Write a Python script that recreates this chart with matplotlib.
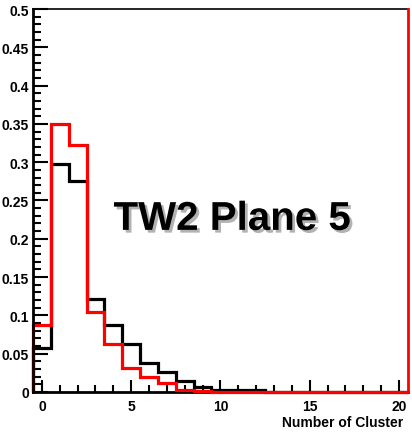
import numpy as np
import matplotlib
matplotlib.use("Agg")
import matplotlib.pyplot as plt
import matplotlib.patheffects as pe
from matplotlib.ticker import MultipleLocator

plt.rcParams['font.family'] = ['Liberation Sans', 'DejaVu Sans']
plt.rcParams['font.weight'] = 'bold'

# bin edges: 21 bins centred on 0..20
edges = np.arange(-0.5, 21.0, 1.0)
black_vals = [0.058, 0.298, 0.275, 0.121, 0.087, 0.063, 0.038, 0.026, 0.014, 0.007,
              0.003, 0.002, 0.002, 0, 0, 0, 0, 0, 0, 0, 0]
red_vals = [0.087, 0.350, 0.322, 0.104, 0.063, 0.031, 0.019, 0.012, 0.003, 0.001,
            0, 0, 0, 0, 0, 0, 0, 0, 0, 0, 0]
y_ticks = [0, 0.05, 0.1, 0.15, 0.2, 0.25, 0.3, 0.35, 0.4, 0.45, 0.5]
y_labels = ['0', '0.05', '0.1', '0.15', '0.2', '0.25', '0.3', '0.35', '0.4', '0.45', '0.5']
x_ticks = [0, 5, 10, 15, 20]

fig = plt.figure(figsize=(4.12, 4.35), dpi=100)
ax = fig.add_axes([0.080, 0.0966, 0.910, 0.8804])

ax.stairs(black_vals, edges, color='black', linewidth=2.3, zorder=3, clip_on=False)
ax.stairs(red_vals, edges, color='red', linewidth=2.3, zorder=3.5, clip_on=False)

ax.set_xlim(-0.5, 20.5)
ax.set_ylim(0, 0.5)

ax.set_yticks(y_ticks)
ax.set_yticklabels(y_labels)
ax.set_xticks(x_ticks)
ax.xaxis.set_minor_locator(MultipleLocator(1))
ax.yaxis.set_minor_locator(MultipleLocator(0.01))
ax.tick_params(axis='both', which='both', direction='in', width=1.5, labelsize=10)
ax.tick_params(axis='y', which='major', length=11, pad=3)
ax.tick_params(axis='y', which='minor', length=6)
ax.tick_params(axis='x', which='major', length=9, pad=5)
ax.tick_params(axis='x', which='minor', length=5)
for lab in ax.get_xticklabels() + ax.get_yticklabels():
    lab.set_fontweight('bold')

ax.spines['left'].set_linewidth(2)
ax.spines['left'].set_zorder(4)
ax.spines['bottom'].set_linewidth(2)
ax.spines['bottom'].set_zorder(2.5)
ax.spines['top'].set_linewidth(1.2)
ax.spines['right'].set_color('red')
ax.spines['right'].set_linewidth(2)
ax.spines['right'].set_zorder(4)

fig.text(403 / 412, 1 - 423 / 435, 'Number of Cluster', fontsize=10, fontweight='bold',
         ha='right', va='center')

ax.text(10.65, 0.226, 'TW2 Plane 5', fontsize=29, fontweight='bold',
        ha='center', va='center', zorder=5,
        path_effects=[pe.withSimplePatchShadow(offset=(2, -2), shadow_rgbFace='gray', alpha=0.6)])

fig.savefig('out.png', dpi=100)
